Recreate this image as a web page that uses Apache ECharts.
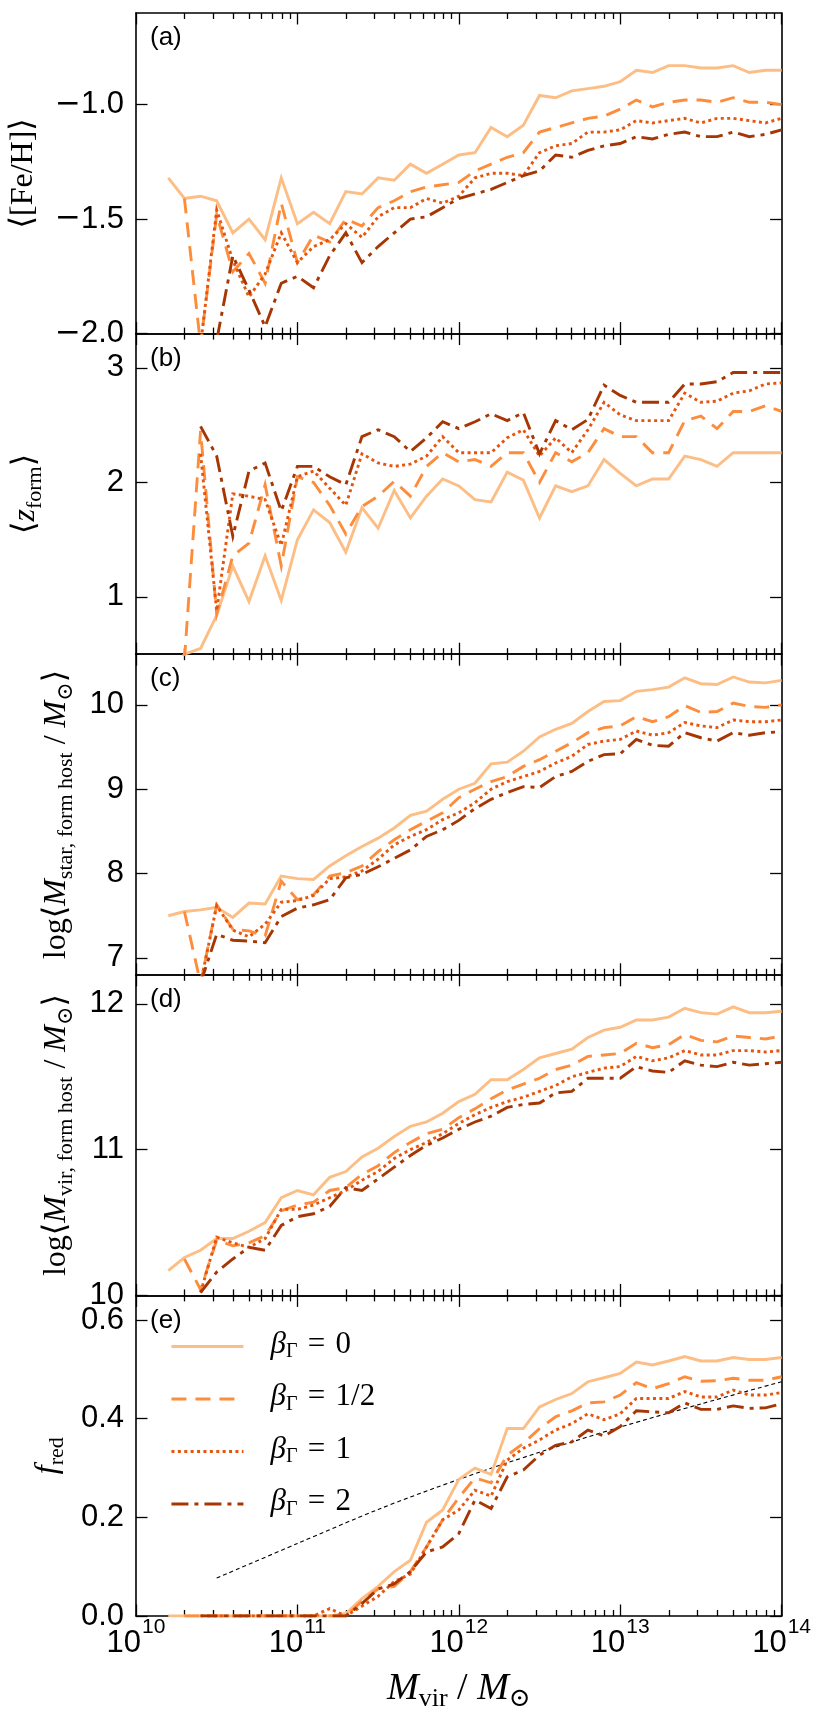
<!DOCTYPE html>
<html><head><meta charset="utf-8">
<script src="https://cdn.jsdelivr.net/npm/echarts@6/dist/echarts.min.js"></script>
<style>html,body{margin:0;padding:0;background:#fff}#c{width:830px;height:1732px}</style>
</head><body><div id="c"></div>
<script>
// ---------------- data ----------------
const LOGM = [10.2,10.3,10.4,10.5,10.6,10.7,10.8,10.9,11.0,11.1,11.2,11.3,11.4,11.5,11.6,11.7,11.8,11.9,12.0,12.1,12.2,12.3,12.4,12.5,12.6,12.7,12.8,12.9,13.0,13.1,13.2,13.3,13.4,13.5,13.6,13.7,13.8,13.9,14.0];

const FEH_B0  = [-1.32,-1.41,-1.40,-1.42,-1.56,-1.50,-1.59,-1.32,-1.52,-1.47,-1.52,-1.38,-1.39,-1.32,-1.33,-1.26,-1.30,-1.26,-1.22,-1.21,-1.10,-1.14,-1.09,-0.96,-0.97,-0.94,-0.93,-0.92,-0.90,-0.85,-0.86,-0.83,-0.83,-0.84,-0.84,-0.83,-0.86,-0.85,-0.85];
const FEH_B05 = [null,-1.41,-2.05,-1.48,-1.73,-1.65,-1.78,-1.43,-1.69,-1.57,-1.60,-1.50,-1.53,-1.45,-1.42,-1.38,-1.36,-1.35,-1.34,-1.29,-1.26,-1.23,-1.21,-1.12,-1.10,-1.08,-1.06,-1.05,-1.02,-0.98,-1.01,-0.99,-0.98,-0.98,-0.99,-0.97,-0.99,-0.99,-1.00];
const FEH_B1  = [null,null,-2.05,-1.46,-1.68,-1.84,-1.74,-1.56,-1.69,-1.62,-1.59,-1.52,-1.58,-1.49,-1.45,-1.45,-1.41,-1.43,-1.40,-1.32,-1.30,-1.30,-1.31,-1.21,-1.18,-1.17,-1.12,-1.12,-1.11,-1.07,-1.08,-1.07,-1.06,-1.08,-1.06,-1.06,-1.07,-1.08,-1.06];
const FEH_B2  = [null,null,-2.30,-2.03,-1.66,-1.81,-1.97,-1.78,-1.75,-1.80,-1.66,-1.56,-1.69,-1.62,-1.56,-1.50,-1.49,-1.45,-1.41,-1.39,-1.37,-1.34,-1.31,-1.29,-1.22,-1.23,-1.20,-1.18,-1.17,-1.14,-1.15,-1.13,-1.12,-1.14,-1.14,-1.12,-1.14,-1.13,-1.11];

const ZF_B0  = [0.30,0.50,0.55,0.84,1.27,0.96,1.36,0.97,1.50,1.76,1.65,1.39,1.78,1.60,1.93,1.69,1.88,2.03,1.97,1.85,1.83,2.09,2.02,1.69,1.97,1.92,1.97,2.20,2.08,1.97,2.03,2.03,2.23,2.20,2.14,2.26,2.26,2.26,2.26];
const ZF_B05 = [null,0.45,2.45,0.85,1.36,1.47,1.98,1.27,2.05,2.00,1.80,1.55,1.79,1.88,2.01,1.88,2.14,2.26,2.18,2.20,2.14,2.26,2.26,2.00,2.26,2.18,2.26,2.47,2.40,2.40,2.26,2.26,2.54,2.58,2.47,2.62,2.62,2.67,2.62];
const ZF_B1  = [null,null,2.25,0.88,1.90,1.88,1.85,1.45,2.05,2.10,1.95,1.80,2.25,2.17,2.14,2.16,2.23,2.40,2.26,2.26,2.26,2.39,2.46,2.23,2.39,2.26,2.46,2.70,2.59,2.54,2.54,2.54,2.78,2.70,2.71,2.78,2.80,2.86,2.87];
const ZF_B2  = [null,null,2.49,2.23,1.53,2.10,2.17,1.75,2.14,2.14,2.05,1.98,2.40,2.46,2.40,2.27,2.39,2.53,2.47,2.53,2.60,2.54,2.61,2.25,2.54,2.46,2.55,2.85,2.76,2.70,2.70,2.70,2.86,2.86,2.88,2.96,2.96,2.96,2.96];

const MSTAR_B0  = [7.50,7.55,7.57,7.60,7.48,7.65,7.64,7.97,7.94,7.93,8.09,8.21,8.32,8.42,8.54,8.69,8.74,8.88,9.00,9.07,9.30,9.32,9.45,9.62,9.71,9.78,9.92,10.04,10.05,10.16,10.18,10.21,10.32,10.25,10.24,10.33,10.27,10.26,10.29];
const MSTAR_B05 = [null,7.55,6.70,7.63,7.34,7.32,7.26,7.91,7.69,7.75,7.97,8.01,8.09,8.26,8.40,8.52,8.62,8.72,8.90,9.00,9.09,9.15,9.27,9.35,9.45,9.55,9.67,9.73,9.75,9.86,9.80,9.86,9.99,9.91,9.92,10.02,9.98,9.97,10.00];
const MSTAR_B1  = [null,null,6.70,7.62,7.33,7.25,7.40,7.66,7.68,7.74,7.94,7.96,8.03,8.17,8.34,8.44,8.52,8.64,8.72,8.84,9.00,9.09,9.15,9.21,9.31,9.39,9.53,9.57,9.59,9.69,9.64,9.67,9.79,9.75,9.73,9.82,9.80,9.80,9.82];
const MSTAR_B2  = [null,null,6.70,7.28,7.21,7.20,7.18,7.49,7.59,7.63,7.69,7.95,7.99,8.08,8.18,8.28,8.44,8.52,8.63,8.77,8.88,8.96,9.03,9.02,9.15,9.21,9.33,9.41,9.42,9.59,9.52,9.51,9.67,9.61,9.57,9.67,9.64,9.67,9.68];

const MVIR_B0  = [10.17,10.26,10.31,10.39,10.39,10.44,10.50,10.67,10.72,10.69,10.81,10.85,10.95,11.01,11.09,11.16,11.19,11.25,11.33,11.38,11.48,11.48,11.55,11.63,11.66,11.69,11.77,11.82,11.84,11.89,11.89,11.91,11.97,11.94,11.93,11.98,11.94,11.94,11.95];
const MVIR_B05 = [null,10.25,10.04,10.38,10.34,10.36,10.41,10.58,10.62,10.64,10.72,10.74,10.83,10.89,10.98,11.05,11.11,11.14,11.22,11.28,11.35,11.41,11.45,11.49,11.55,11.58,11.64,11.65,11.66,11.73,11.70,11.72,11.79,11.75,11.74,11.78,11.77,11.76,11.78];
const MVIR_B1  = [null,null,10.02,10.40,10.36,10.33,10.39,10.59,10.59,10.62,10.67,10.72,10.79,10.85,10.94,11.00,11.05,11.11,11.18,11.24,11.29,11.33,11.36,11.40,11.44,11.50,11.53,11.56,11.57,11.64,11.61,11.63,11.68,11.65,11.65,11.68,11.68,11.67,11.68];
const MVIR_B2  = [null,null,10.02,10.16,10.25,10.33,10.31,10.48,10.54,10.56,10.61,10.74,10.72,10.80,10.88,10.96,11.03,11.08,11.14,11.19,11.23,11.29,11.31,11.32,11.39,11.40,11.49,11.49,11.49,11.57,11.54,11.53,11.61,11.58,11.57,11.60,11.58,11.59,11.60];

const FRED_B0  = [0,0,0,0,0,0,0,0,0,0,0,0.005,0.035,0.06,0.09,0.113,0.19,0.215,0.277,0.30,0.287,0.38,0.38,0.424,0.439,0.451,0.475,0.483,0.492,0.515,0.509,0.517,0.526,0.517,0.517,0.524,0.52,0.52,0.524];
const FRED_B05 = [null,0,0,0,0,0,0,0,0,0,0,0,0.03,0.055,0.06,0.09,0.14,0.195,0.24,0.28,0.27,0.326,0.35,0.38,0.404,0.416,0.432,0.434,0.448,0.473,0.461,0.471,0.485,0.476,0.477,0.482,0.478,0.478,0.485];
const FRED_B1  = [null,null,0,0,0,0,0,0,0,0,0.015,0,0.02,0.04,0.07,0.085,0.14,0.195,0.215,0.255,0.243,0.316,0.34,0.357,0.377,0.39,0.41,0.398,0.41,0.441,0.441,0.441,0.455,0.444,0.444,0.458,0.448,0.448,0.453];
const FRED_B2  = [null,null,0,0,0,0,0,0,0,0,0,0,0.025,0.055,0.065,0.09,0.13,0.14,0.167,0.235,0.218,0.282,0.296,0.326,0.346,0.353,0.377,0.365,0.384,0.416,0.414,0.412,0.432,0.419,0.419,0.426,0.421,0.422,0.43];

const REF_LOGM = [10.5,11.0,11.5,12.0,12.5,13.0,13.5,14.0];
const REF_FRED = [0.077,0.147,0.216,0.277,0.332,0.383,0.430,0.475];

const Y_TICKS = [[-2,-1.5,-1],[1,2,3],[7,8,9,10],[10,11,12],[0,0.2,0.4,0.6]];
const Y_MIN = [-2,0.5,6.8,10,0];
const Y_MAX = [-0.6,3.3,10.6,12.2,0.65];
const PANEL_LABELS = ['(a)','(b)','(c)','(d)','(e)'];
const SERIES_NAMES = ['b0','b05','b1','b2'];
const LEGEND_TEXT = {b0:'0', b05:'1/2', b1:'1', b2:'2'};

// ---------------- styling ----------------
const SANS = '"Liberation Sans", Arial, Helvetica, sans-serif';
const SERIF = '"Liberation Serif", "DejaVu Serif", serif';
const COLORS = ['#fdbe85','#fd8d3c','#e6550d','#a63603'];
const DASHES = ['solid',[15,9],[3,3.4],[17,6,4,6]];
const LW = 2.9;
const GRID_LEFT = 136, GRID_RIGHT = 48.4, TOP0 = 13, PH = 320.6;

const X_MINOR = [];
for (let d = 10; d < 14; d++) for (let k = 2; k <= 9; k++) X_MINOR.push(k * Math.pow(10, d));

const PANELS = [
  [FEH_B0,FEH_B05,FEH_B1,FEH_B2],
  [ZF_B0,ZF_B05,ZF_B1,ZF_B2],
  [MSTAR_B0,MSTAR_B05,MSTAR_B1,MSTAR_B2],
  [MVIR_B0,MVIR_B05,MVIR_B1,MVIR_B2],
  [FRED_B0,FRED_B05,FRED_B1,FRED_B2]
];

const Y_FMT = [
  v => (v < 0 ? '{m|\u2212}' : '') + Math.abs(v).toFixed(1),
  v => String(Math.round(v)),
  v => String(Math.round(v)),
  v => String(Math.round(v)),
  v => v.toFixed(1)
];

const NAME_RICH = {
  n: {fontFamily: SERIF, fontSize: 32, lineHeight: 32, padding:[0,0,4,0], verticalAlign:'bottom', color:'#000'},
  i: {fontFamily: SERIF, fontSize: 32, lineHeight: 32, padding:[0,0,4,0], verticalAlign:'bottom', fontStyle:'italic', color:'#000'},
  s: {fontFamily: SERIF, fontSize: 22, lineHeight: 22, verticalAlign:'bottom', color:'#000'}
};
const Y_NAMES = [
  '{n|\u27E8[Fe/H]\u27E9}',
  '{n|\u27E8}{i|z}{s|form}{n|\u27E9}',
  '{n|log\u27E8}{i|M}{s|star, form host}{n| / }{i|M}{s|\u2299}{n|\u27E9}',
  '{n|log\u27E8}{i|M}{s|vir, form host}{n| / }{i|M}{s|\u2299}{n|\u27E9}',
  '{i|f}{s|red}'
];
const Y_NAME_GAP = [90, 90, 59, 59, 68];

const grids = [], xAxes = [], yAxes = [], series = [], graphics = [];
const tickStyle = {color:'#000', width:1.3};
const axisLineStyle = {color:'#000', width:1.6};
const MAJ = 11.5, MIN = 6;

for (let k = 0; k < 5; k++) {
  const top = TOP0 + k * PH;
  grids.push({left: GRID_LEFT, right: GRID_RIGHT, top: top, height: PH});
  const baseX = {type:'log', logBase:10, gridIndex:k, min:1e10, max:1e14, splitLine:{show:false}, minorTick:{show:false}};
  const last = (k === 4);
  xAxes.push(Object.assign({}, baseX, {
    position:'bottom', interval:1,
    axisLine:{show:true, onZero:false, lineStyle:axisLineStyle},
    axisTick:{show:true, inside:true, length:MAJ, lineStyle:tickStyle},
    axisLabel:{show:last, margin:12,
      formatter: v => '{b|10}{p|' + Math.round(Math.log10(v)) + '}',
      rich:{
        b:{fontFamily:SANS, fontSize:31, lineHeight:31, verticalAlign:'bottom', color:'#000'},
        p:{fontFamily:SANS, fontSize:21, lineHeight:21, verticalAlign:'bottom', padding:[0,0,21,1], color:'#000'}
      }},
    name: last ? '{i|M}{s|vir}{n| / }{i|M}{s|\u2299}' : '',
    nameLocation:'middle', nameGap:58,
    nameTextStyle:{rich:{
      n:{fontFamily:SERIF, fontSize:38, lineHeight:38, padding:[0,0,4,0], verticalAlign:'bottom', color:'#000'},
      i:{fontFamily:SERIF, fontSize:38, lineHeight:38, padding:[0,0,4,0], verticalAlign:'bottom', fontStyle:'italic', color:'#000'},
      s:{fontFamily:SERIF, fontSize:26, lineHeight:26, verticalAlign:'bottom', color:'#000'}
    }}
  }));
  xAxes.push(Object.assign({}, baseX, {
    position:'bottom', axisLine:{show:false, onZero:false},
    axisTick:{show:true, inside:true, length:MIN, lineStyle:tickStyle, customValues:X_MINOR},
    axisLabel:{show:false}
  }));
  xAxes.push(Object.assign({}, baseX, {
    position:'top', interval:1,
    axisLine:{show:true, onZero:false, lineStyle:axisLineStyle},
    axisTick:{show:true, inside:true, length:MAJ, lineStyle:tickStyle},
    axisLabel:{show:false}
  }));
  xAxes.push(Object.assign({}, baseX, {
    position:'top', axisLine:{show:false, onZero:false},
    axisTick:{show:true, inside:true, length:MIN, lineStyle:tickStyle, customValues:X_MINOR},
    axisLabel:{show:false}
  }));

  const baseY = {type:'value', gridIndex:k, min:Y_MIN[k], max:Y_MAX[k], splitLine:{show:false}, minorTick:{show:false}};
  yAxes.push(Object.assign({}, baseY, {
    position:'left',
    axisLine:{show:true, onZero:false, lineStyle:axisLineStyle},
    axisTick:{show:false},
    axisLabel:{show:true, customValues:Y_TICKS[k], margin:12, formatter:Y_FMT[k],
      fontFamily:SANS, fontSize:31, color:'#000',
      rich:{m:{fontFamily:'"DejaVu Sans", sans-serif', fontSize:31, color:'#000'}}},
    name: Y_NAMES[k], nameLocation:'middle', nameGap:Y_NAME_GAP[k], nameRotate:90,
    nameTextStyle:{rich:NAME_RICH}
  }));
  yAxes.push(Object.assign({}, baseY, {
    position:'left',
    axisLine:{show:false, onZero:false},
    axisTick:{show:true, inside:true, length:MAJ, lineStyle:tickStyle, customValues:Y_TICKS[k]},
    axisLabel:{show:false}
  }));
  yAxes.push(Object.assign({}, baseY, {
    position:'right',
    axisLine:{show:true, onZero:false, lineStyle:axisLineStyle},
    axisTick:{show:true, inside:true, length:MAJ, lineStyle:tickStyle, customValues:Y_TICKS[k]},
    axisLabel:{show:false}
  }));

  for (let s = 0; s < 4; s++) {
    const vals = PANELS[k][s];
    series.push({
      type:'line', name:SERIES_NAMES[s], xAxisIndex:4*k, yAxisIndex:3*k,
      data: LOGM.map((lm, i) => [Math.pow(10, lm), vals[i]]),
      symbol:'none', showSymbol:false, clip:true, connectNulls:false,
      lineStyle:{color:COLORS[s], width:LW, type:DASHES[s], cap:'butt', join:'miter'},
      itemStyle:{color:COLORS[s]},
      emphasis:{disabled:true}, silent:true, z:2+s
    });
  }

  graphics.push({type:'text', left:150, top:top+12,
    style:{text:PANEL_LABELS[k], font:'26px ' + SANS, fill:'#000'}});
}

series.push({
  type:'line', name:'ref', xAxisIndex:16, yAxisIndex:12,
  data: REF_LOGM.map((lm, i) => [Math.pow(10, lm), REF_FRED[i]]),
  symbol:'none', smooth:0.3, clip:true,
  lineStyle:{color:'#000', width:1.1, type:[4,3]}, emphasis:{disabled:true}, silent:true, z:1
});

const chart = echarts.init(document.getElementById('c'), null, {renderer:'canvas'});
chart.setOption({
  animation:false,
  backgroundColor:'#fff',
  grid:grids, xAxis:xAxes, yAxis:yAxes, series:series, graphic:graphics,
  legend:{
    data:SERIES_NAMES, orient:'vertical', left:165, top:1324,
    itemWidth:72, itemHeight:16, itemGap:19.5,
    selectedMode:false,
    itemStyle:{opacity:0},
    lineStyle:{width:LW},
    formatter: name => '{li|\u03B2}{lg|\u0393}{ln|\u2004=\u2004' + LEGEND_TEXT[name] + '}',
    textStyle:{rich:{
      li:{fontFamily:SERIF, fontSize:31, lineHeight:31, fontStyle:'italic', padding:[0,0,2,22], verticalAlign:'bottom', color:'#000'},
      lg:{fontFamily:SERIF, fontSize:20, lineHeight:20, verticalAlign:'bottom', color:'#000'},
      ln:{fontFamily:SERIF, fontSize:31, lineHeight:31, padding:[0,0,2,0], verticalAlign:'bottom', color:'#000'}
    }}
  }
});
</script>
</body></html>
